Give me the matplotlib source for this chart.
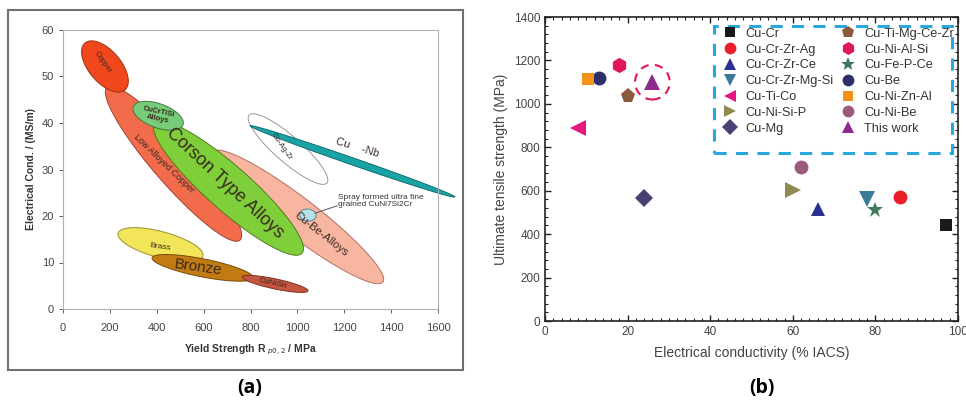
import numpy as np
import matplotlib
matplotlib.use("Agg")
import matplotlib.pyplot as plt
from matplotlib.patches import Polygon, Rectangle, Ellipse

plt.rcParams['font.family'] = ['Liberation Sans', 'DejaVu Sans']

# ---- panel (a): property regions (yield strength MPa, conductivity MS/m) ----
region_names = ["Cu-Be-Alloys", "Low Alloyed Copper", "Corson Type Alloys", "CuCrTiSi Alloys",
                "Copper", "Cu-Ag-Zr", "Cu-Nb", "Brass", "Bronze", "CuNiSn", "CuNi7Si2Cr"]
region_start = [(640, 33.8), (188, 47.7), (392, 40.0), (300, 43.5),
                (94, 57.2), (794, 41.7), (798, 39.4), (235, 16.3), (380, 11.0), (764, 6.9), (1010, 20.4)]
region_end = [(1365, 5.8), (755, 14.8), (1020, 12.0), (512, 39.6),
              (264, 47.1), (1126, 27.1), (1672, 24.1), (597, 11.4), (811, 6.7), (1045, 3.9), (1080, 20.0)]

# ---- panel (b): UTS vs conductivity ----
alloys = ["Cu-Cr", "Cu-Cr-Zr-Ag", "Cu-Cr-Zr-Ce", "Cu-Cr-Zr-Mg-Si", "Cu-Ti-Co", "Cu-Ni-Si-P", "Cu-Mg",
          "Cu-Ti-Mg-Ce-Zr", "Cu-Ni-Al-Si", "Cu-Fe-P-Ce", "Cu-Be", "Cu-Ni-Zn-Al", "Cu-Ni-Be", "This work"]
conductivity = [97, 86, 66, 78, 8, 60, 24, 20, 18, 80, 13, 10.5, 62, 26]
uts = [440, 570, 515, 560, 890, 605, 565, 1035, 1180, 510, 1120, 1115, 710, 1100]

W, H = 966, 403
fig = plt.figure(figsize=(W / 100, H / 100), dpi=100)

# ======================= (a) =======================
axa = fig.add_axes([63 / W, 1 - 309 / H, 375 / W, 279 / H])
axa.set_xlim(0, 1600)
axa.set_ylim(0, 60)
axa.set_xticks(range(0, 1601, 200))
axa.set_yticks(range(0, 61, 10))
for s in axa.spines.values():
    s.set_color("#b0b0b0")
    s.set_linewidth(0.8)
axa.tick_params(labelsize=8, colors="#444444", length=3, width=0.6)
axa.tick_params(axis="x", pad=7)
axa.set_xlabel("Yield Strength R$_{\\ p0,2}$ / MPa", fontsize=7.5, fontweight="bold", color="#333333", labelpad=7)
axa.set_ylabel("Electrical Cond. / (MS/m)", fontsize=7.5, fontweight="bold", color="#333333", labelpad=4)

fill_cols = ["#f8b6a0", "#f26c4c", "#7fcf3a", "#77cc7a", "#f0471d", "none", "#1aa3a4",
             "#f3e55a", "#c27b12", "#c45640", "#b6dfe8"]
edge_cols = ["#b07060", "#a04030", "#507a20", "#3f7a3f", "#a03010", "#999999", "#0e6e70",
             "#9a9030", "#7a4a05", "#803020", "#5a8a95"]
widths_px = [38, 40, 44, 24, 32, 26, 7, 26, 18, 10, 12]

fig.canvas.draw()
td = axa.transData
inv = td.inverted()
for p1, p2, fc, ec, wpx in zip(region_start, region_end, fill_cols, edge_cols, widths_px):
    a = td.transform(p1)
    b = td.transform(p2)
    c = (a + b) / 2
    d = b - a
    L = np.hypot(*d) / 2
    u = d / np.hypot(*d)
    n = np.array([-u[1], u[0]])
    t = np.linspace(0, 2 * np.pi, 120)
    pts = c + np.outer(L * np.cos(t), u) + np.outer(wpx / 2 * np.sin(t), n)
    poly = Polygon(inv.transform(pts), closed=True, facecolor=fc, edgecolor=ec,
                   linewidth=0.7, clip_on=False)
    axa.add_patch(poly)

txt = dict(color="#3a2a20", ha="center", va="center", rotation_mode="anchor")
axa.text(171, 53.1, "Copper", fontsize=5.5, rotation=-55, **txt)
axa.text(406, 41.6, "CuCrTiSi\nAlloys", fontsize=5.5, rotation=-12, fontweight="bold", linespacing=0.9, **txt)
axa.text(430, 31.3, "Low Alloyed Copper", fontsize=6.5, rotation=-44, **txt)
axa.text(690, 27.0, "Corson Type Alloys", fontsize=13, rotation=-43, **txt)
axa.text(934, 34.8, "Cu-Ag-Zr", fontsize=5.5, rotation=-55, **txt)
axa.text(1255, 34.6, "Cu    -Nb", fontsize=8, rotation=-17, **txt)
axa.text(1100, 16.2, "Cu-Be-Alloys", fontsize=8, rotation=-38, **txt)
axa.text(414, 13.4, "Brass", fontsize=6, rotation=-8, **txt)
axa.text(578, 8.9, "Bronze", fontsize=11, rotation=-8, **txt)
axa.text(896, 5.4, "CuNiSn", fontsize=6, rotation=-12, **txt)
axa.text(1172, 23.2, "Spray formed ultra fine\ngrained CuNi7Si2Cr", fontsize=6, color="#333333",
         ha="left", va="center", linespacing=1.1)
axa.plot([1075, 1170], [20.6, 22.2], color="#555555", lw=0.7)

fig.patches.append(Rectangle((8 / W, 1 - 370 / H), 455 / W, 360 / H, transform=fig.transFigure,
                             fill=False, edgecolor="#707070", linewidth=1.5))
fig.text(250 / W, 1 - 388 / H, "(a)", fontsize=14, fontweight="bold", ha="center", va="center",
         family=["Open Sans", "DejaVu Sans"])

# ======================= (b) =======================
axb = fig.add_axes([545 / W, 1 - 321 / H, 413 / W, 304 / H])
axb.set_xlim(0, 100)
axb.set_ylim(0, 1400)
axb.set_xticks(range(0, 101, 20))
axb.set_yticks(range(0, 1401, 200))
axb.set_xticks(np.arange(0, 101, 2), minor=True)
axb.set_yticks(np.arange(0, 1401, 40), minor=True)
axb.tick_params(which="both", direction="in", top=True, right=True, colors="#222222")
axb.tick_params(which="major", length=4, width=1.0, labelsize=8.5, labelcolor="#444444")
axb.tick_params(which="minor", length=2, width=0.8)
for s in axb.spines.values():
    s.set_linewidth(1.2)
    s.set_color("#222222")
axb.set_xlabel("Electrical conductivity (% IACS)", fontsize=10, color="#444444", labelpad=6)
axb.set_ylabel("Ultimate tensile strength (MPa)", fontsize=10, color="#444444", labelpad=4)

markers = ["s", "o", "^", "v", "<", ">", "D", "p", "h", "*", "o", "s", "o", "^"]
colors = ["#1a1a1a", "#e8202a", "#2b2f90", "#3a7a98", "#e6177f", "#8f8a4f", "#4a3f73",
          "#8b5a3c", "#e0175a", "#3f7a5a", "#2d2f6b", "#f39419", "#9c5b7c", "#8e2a8e"]
sizes = [9, 10, 10, 11, 11, 11, 9, 11, 11, 12, 10, 9, 10, 11]

for name, xv, yv, m, c, ms in zip(alloys, conductivity, uts, markers, colors, sizes):
    axb.plot(xv, yv, linestyle="none", marker=m, color=c, markersize=ms,
             markeredgewidth=0, label=name, zorder=3)

axb.add_patch(Ellipse((conductivity[-1], uts[-1]), 8.4, 160, fill=False, edgecolor="#e0175a",
                      linestyle=(0, (4, 3)), linewidth=1.5, zorder=3))

axb.add_patch(Rectangle((40.8, 775), 57.7, 585, fill=False, edgecolor="#29a8e0",
                        linestyle=(0, (4, 3)), linewidth=2.2, zorder=2))
leg = axb.legend(ncol=2, loc="upper left", bbox_to_anchor=(0.405, 0.99), frameon=False,
                 fontsize=9.2, labelspacing=0.3, handletextpad=0.5, columnspacing=0.4,
                 handlelength=1.5, borderaxespad=0.2, markerscale=0.85)
for t in leg.get_texts():
    t.set_color("#333333")

fig.text(762 / W, 1 - 388 / H, "(b)", fontsize=14, fontweight="bold", ha="center", va="center",
         family=["Open Sans", "DejaVu Sans"])

fig.savefig("out.png", dpi=100)
